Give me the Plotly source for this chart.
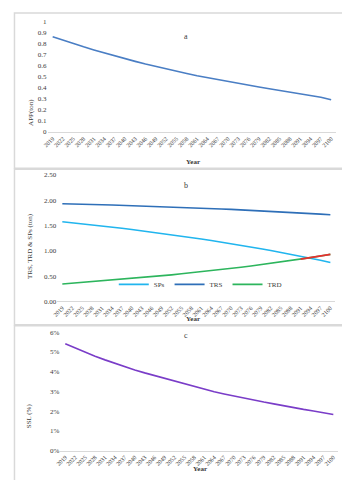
import plotly.graph_objects as go

W, H = 350, 480

# x categories (every 3 years)
years = list(range(2019, 2101, 3))
year_labels = [str(y) for y in years]

# panel a - APP (ton)
app = [0.865, 0.832, 0.802, 0.773, 0.745, 0.718, 0.692, 0.666, 0.641, 0.617,
       0.594, 0.571, 0.550, 0.530, 0.510, 0.492, 0.474, 0.457, 0.440, 0.424,
       0.408, 0.393, 0.378, 0.363, 0.348, 0.333, 0.316, 0.293]

# panel b - TRS, TRD & SPs (ton)
sps = [1.575, 1.555, 1.535, 1.515, 1.495, 1.470, 1.445, 1.420, 1.395, 1.370,
       1.345, 1.320, 1.292, 1.265, 1.235, 1.205, 1.175, 1.142, 1.110, 1.076,
       1.041, 1.005, 0.970, 0.932, 0.893, 0.855, 0.815, 0.770]
trs = [1.930, 1.928, 1.922, 1.916, 1.910, 1.905, 1.899, 1.893, 1.887, 1.880,
       1.873, 1.866, 1.858, 1.851, 1.843, 1.835, 1.827, 1.819, 1.810, 1.801,
       1.792, 1.782, 1.772, 1.762, 1.751, 1.740, 1.726, 1.712]
trd = [0.345, 0.360, 0.375, 0.390, 0.405, 0.420, 0.436, 0.453, 0.470, 0.488,
       0.506, 0.525, 0.545, 0.565, 0.586, 0.607, 0.629, 0.652, 0.676, 0.700,
       0.725, 0.751, 0.778, 0.806, 0.835, 0.865, 0.896, 0.930]
cross_idx = 25  # TRD drawn red after it passes SPs

# panel c - SSL (%)
ssl = [5.42, 5.20, 4.99, 4.79, 4.60, 4.42, 4.25, 4.09, 3.94, 3.80,
       3.66, 3.53, 3.40, 3.25, 3.10, 2.98, 2.87, 2.76, 2.66, 2.56,
       2.46, 2.37, 2.27, 2.18, 2.09, 2.01, 1.92, 1.83]

FONT = "Liberation Serif"
TXT = "#3a3a3a"
GRID = "#d9d9d9"


def xd(x0, x1):
    return [x0 / W, x1 / W]


def yd(top, bot):
    return [1 - bot / H, 1 - top / H]


fig = go.Figure()

fig.add_trace(go.Scatter(x=years, y=app, mode="lines", line=dict(color="#4A7EC4", width=1.6),
                         showlegend=False, xaxis="x", yaxis="y"))

fig.add_trace(go.Scatter(x=years, y=sps, mode="lines", name="SPs",
                         line=dict(color="#21B5EE", width=1.6), xaxis="x2", yaxis="y2"))
fig.add_trace(go.Scatter(x=years, y=trs, mode="lines", name="TRS",
                         line=dict(color="#2E6FB8", width=1.6), xaxis="x2", yaxis="y2"))
fig.add_trace(go.Scatter(x=years, y=trd, mode="lines", name="TRD",
                         line=dict(color="#2DB55D", width=1.6), xaxis="x2", yaxis="y2"))
fig.add_trace(go.Scatter(x=years[cross_idx - 1:], y=trd[cross_idx - 1:], mode="lines",
                         line=dict(color="#E8302F", width=1.6), showlegend=False,
                         xaxis="x2", yaxis="y2"))

fig.add_trace(go.Scatter(x=years, y=ssl, mode="lines", line=dict(color="#7A3DC8", width=1.6),
                         showlegend=False, xaxis="x3", yaxis="y3"))


def xaxis(dom, anchor):
    return dict(domain=dom, anchor=anchor, range=[years[0] - 1.5, years[-1] + 1.5],
                tickmode="array", tickvals=years, ticktext=year_labels, tickangle=-45,
                tickfont=dict(family=FONT, size=6, color=TXT), showgrid=False,
                zeroline=False, showline=True, linecolor=GRID, linewidth=1, ticks="")


def yaxis(dom, anchor, rng, dtick, fmt="", suffix=""):
    return dict(domain=dom, anchor=anchor, range=rng, dtick=dtick, tickformat=fmt,
                ticksuffix=suffix, tickfont=dict(family=FONT, size=7, color=TXT),
                showgrid=False, zeroline=False, showline=False, ticks="")


fig.update_layout(
    width=W, height=H, margin=dict(l=0, r=0, t=0, b=0),
    paper_bgcolor="white", plot_bgcolor="white",
    font=dict(family=FONT, color=TXT),
    xaxis=xaxis(xd(35, 328), "y"),
    yaxis=yaxis(yd(10, 122), "x", [0, 1], 0.1),
    xaxis2=xaxis(xd(45, 327), "y2"),
    yaxis2=yaxis(yd(165.7, 294.3), "x2", [0, 2.5], 0.5, fmt=".2f"),
    xaxis3=xaxis(xd(48, 330), "y3"),
    yaxis3=yaxis(yd(325.7, 446), "x3", [0, 6], 1, suffix="%"),
    legend=dict(orientation="h", x=190 / W, y=1 - 277 / H, xanchor="center", yanchor="middle",
                font=dict(family=FONT, size=7, color=TXT), bgcolor="rgba(0,0,0,0)",
                itemwidth=30, tracegroupgap=0),
)

# panel borders
for top, bot in [(1, 159), (160, 318), (319, 479)]:
    fig.add_shape(type="rect", xref="paper", yref="paper",
                  x0=1.5 / W, x1=348.5 / W, y0=1 - bot / H, y1=1 - top / H,
                  line=dict(color=GRID, width=1.5), fillcolor="rgba(0,0,0,0)")


def note(text, x, y, size=7, angle=0, bold=False):
    fig.add_annotation(text=f"<b>{text}</b>" if bold else text, x=x / W, y=1 - y / H,
                       xref="paper", yref="paper", showarrow=False, textangle=angle,
                       font=dict(family=FONT, size=size, color=TXT))


note("a", 175, 18, size=8)
note("b", 175, 176, size=8)
note("c", 175, 336, size=8)
note("Year", 183, 146, bold=True)
note("Year", 183, 312, bold=True)
note("Year", 190, 471, bold=True)
note("APP(ton)", 12, 86, angle=-90)
note("TRS, TRD & SPs (ton)", 11, 238, angle=-90)
note("SSL (%)", 11, 425, angle=-90)

fig.write_html("out.html")
